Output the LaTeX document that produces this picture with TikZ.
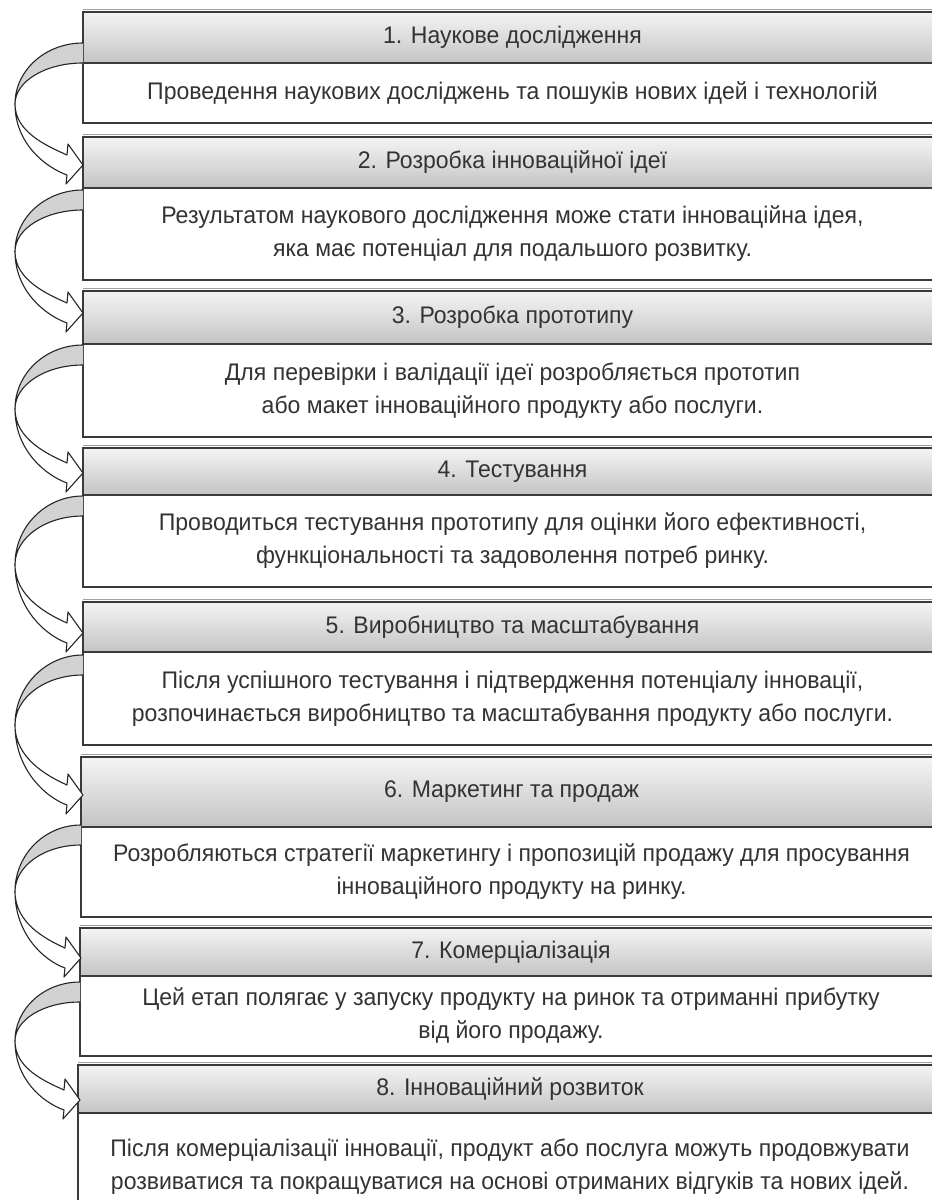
\documentclass[tikz,border=0pt]{standalone}
\usepackage{fontspec}
\setmainfont{Liberation Sans}[FakeStretch=0.96]
\definecolor{edge}{HTML}{3A3A3A}
\definecolor{txt}{HTML}{333333}
\definecolor{htop}{HTML}{F4F4F4}
\definecolor{hbot}{HTML}{C4C4C4}
\definecolor{band}{HTML}{D2D2D2}
\definecolor{rim}{HTML}{A0A0A0}
\tikzset{
 hdr/.style={draw=edge, line width=1.4pt, top color=htop, bottom color=hbot, inner sep=0pt, outer sep=0pt, text=txt, font=\fontsize{24}{32}\selectfont, anchor=north west},
 bodybox/.style={draw=edge, line width=1.4pt, fill=white, inner sep=0pt, outer sep=0pt, text=txt, align=center, font=\fontsize{24}{33}\selectfont, anchor=north west},
 ribline/.style={draw=black!85, line width=1.1pt, line join=round},
 rimline/.style={draw=rim, line width=1pt},
}
\newcommand{\mkstage}[7]{%
 \draw[rimline] (#5,#2-3) -- (942,#2-3);
 \node[hdr, minimum width={(942-#5)*1pt}, minimum height={(#3-#2)*1pt}] (h#1) at (#5,#2) {#6};
 \node[bodybox, minimum width={(942-#5)*1pt}, minimum height={(#4-#3)*1pt}] (b#1) at (#5,#3) {#7};
}
\newcommand{\mkribbon}[3]{%
 \pgfmathsetmacro{\xo}{#1}%
 \pgfmathsetmacro{\ya}{#2}%
 \pgfmathsetmacro{\ye}{#3}%
 \pgfmathsetmacro{\ym}{(#2+#3)/2}%
 \pgfmathsetmacro{\xl}{15}%
 \pgfmathsetmacro{\xh}{#1-16}%
 \pgfmathsetmacro{\cxa}{\xo-0.552*(\xo-\xl)}%
 \pgfmathsetmacro{\cyo}{\ym-0.552*(\ym-\ya)}%
 \pgfmathsetmacro{\cyi}{\ym-0.552*(\ym-\ya-20)}%
 \pgfmathsetmacro{\cyol}{\ym+0.552*(\ye+10-\ym)}%
 \pgfmathsetmacro{\cyil}{\ym+0.552*(\ye-10-\ym)}%
 \draw[ribline, fill=band] (\xo,\ya) .. controls (\cxa,\ya) and (\xl,\cyo) .. (\xl,\ym) .. controls (\xl,\cyi) and (\cxa,\ya+20) .. (\xo,\ya+20);
 \draw[ribline, fill=white] (\xl,\ym) .. controls (\xl,\cyol) and (\xh-22,\ye+2) .. (\xh,\ye+10) -- (\xh-1,\ye+19) -- (\xo,\ye) -- (\xh+1,\ye-21) -- (\xh,\ye-10) .. controls (\xh-20,\ye-19) and (\xl,\cyil) .. (\xl,\ym) -- cycle;
}
\begin{document}
\begin{tikzpicture}[x=1pt,y=-1pt]
\useasboundingbox[fill=white] (0,0) rectangle (932,1200);
\mkstage{1}{12}{63}{123}{83}{1. Наукове дослідження}{Проведення наукових досліджень та пошуків нових ідей і технологій}
\mkstage{2}{137}{188}{280}{83}{2. Розробка інноваційної ідеї}{Результатом наукового дослідження може стати інноваційна ідея,\\ яка має потенціал для подальшого розвитку.}
\mkstage{3}{291}{344}{437}{83}{3. Розробка прототипу}{Для перевірки і валідації ідеї розробляється прототип\\ або макет інноваційного продукту або послуги.}
\mkstage{4}{448}{495}{587}{83}{4. Тестування}{Проводиться тестування прототипу для оцінки його ефективності,\\ функціональності та задоволення потреб ринку.}
\mkstage{5}{602}{652}{745}{83}{5. Виробництво та масштабування}{Після успішного тестування і підтвердження потенціалу інновації,\\ розпочинається виробництво та масштабування продукту або послуги.}
\mkstage{6}{757}{827}{917}{81}{6. Маркетинг та продаж}{Розробляються стратегії маркетингу і пропозицій продажу для просування\\ інноваційного продукту на ринку.}
\mkstage{7}{928}{976}{1056}{80}{7. Комерціалізація}{Цей етап полягає у запуску продукту на ринок та отриманні прибутку\\ від його продажу.}
\mkstage{8}{1065}{1113}{1221}{78}{8. Інноваційний розвиток}{Після комерціалізації інновації, продукт або послуга можуть продовжувати\\ розвиватися та покращуватися на основі отриманих відгуків та нових ідей.}
\mkribbon{83}{43}{165}
\mkribbon{83}{190}{313}
\mkribbon{83}{345}{473}
\mkribbon{83}{496}{633}
\mkribbon{83}{655}{795}
\mkribbon{81}{825}{958}
\mkribbon{80}{982}{1100}
\end{tikzpicture}
\end{document}
